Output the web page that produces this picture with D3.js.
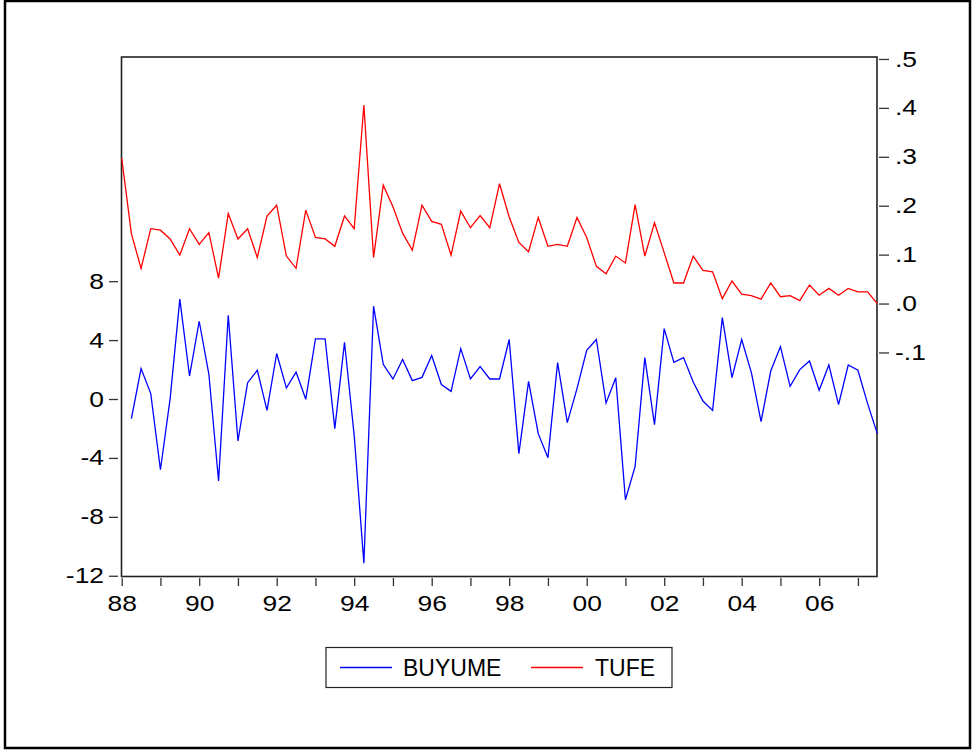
<!DOCTYPE html>
<html><head><meta charset="utf-8">
<script src="https://cdn.jsdelivr.net/npm/d3@7"></script>
<style>
body{margin:0;background:#fff}
text{font-family:"Liberation Sans",Arial,sans-serif;fill:#000}
</style>
</head><body>
<svg id="chart" width="972" height="751"></svg>
<script>
// Quarterly observations, 1988Q1 .. 2007Q3
const startYear = 1988;
const nObs = 79;
const buyume = [null,-1.33,2.07,0.37,-4.80,0.03,6.78,1.56,5.28,1.68,
 -5.57,5.69,-2.85,1.11,1.95,-0.77,3.09,0.75,1.83,-0.02,
 4.08,4.08,-2.01,3.85,-2.47,-11.15,6.30,2.36,1.36,2.68,
 1.25,1.47,2.95,0.98,0.52,3.42,1.36,2.20,1.36,1.36,
 4.04,-3.71,1.20,-2.35,-3.98,2.47,-1.60,0.71,3.31,4.04,
 -0.27,1.45,-6.84,-4.57,2.81,-1.74,4.78,2.49,2.81,1.16,
 -0.14,-0.77,5.53,1.45,4.04,1.79,-1.54,1.90,3.56,0.86,
 2.00,2.58,0.59,2.31,-0.38,2.31,1.95,-0.31,-2.35];
const tufe = [0.297,0.143,0.072,0.153,0.150,0.132,0.099,0.153,0.121,0.145,
 0.052,0.184,0.132,0.153,0.094,0.179,0.201,0.097,0.072,0.191,
 0.135,0.132,0.117,0.179,0.153,0.406,0.094,0.242,0.198,0.144,
 0.109,0.201,0.168,0.162,0.099,0.189,0.155,0.180,0.155,0.245,
 0.177,0.125,0.106,0.176,0.117,0.121,0.117,0.176,0.135,0.076,
 0.061,0.097,0.083,0.202,0.097,0.165,0.104,0.042,0.042,0.097,
 0.068,0.065,0.010,0.046,0.019,0.016,0.009,0.042,0.014,0.016,
 0.006,0.038,0.017,0.031,0.017,0.031,0.024,0.024,0.000];
const leftTicks = [-12,-8,-4,0,4,8];
const leftTickLabels = ["-12","-8","-4","0","4","8"];
const rightTicks = [-0.1,0,0.1,0.2,0.3,0.4,0.5];
const rightTickLabels = ["-.1",".0",".1",".2",".3",".4",".5"];
const xTickLabels = ["88","90","92","94","96","98","00","02","04","06"];
const seriesNames = ["BUYUME","TUFE"];
const seriesColors = ["#0000ff","#ff0000"];

const svg = d3.select("#chart");
const P = {l:121.5, r:877, t:57, b:576.5};

// outer frame
svg.append("rect").attr("x",5).attr("y",1).attr("width",965).attr("height",747)
  .attr("fill","none").attr("stroke","#000").attr("stroke-width",2.5);

const x = d3.scaleLinear().domain([0,nObs-1]).range([121.7,877.3]);
const yL = d3.scaleLinear().domain([-12.05,23.22]).range([P.b,P.t]);
const yR = d3.scaleLinear().domain([-0.558,0.504]).range([P.b,P.t]);

// plot frame
svg.append("rect").attr("x",P.l).attr("y",P.t).attr("width",P.r-P.l).attr("height",P.b-P.t)
  .attr("fill","none").attr("stroke","#222").attr("stroke-width",1.6);

const fs = 22;
// left axis
const gL = svg.append("g").attr("transform",`translate(118,0)`)
  .call(d3.axisLeft(yL).tickValues(leftTicks).tickSize(9).tickPadding(5)
    .tickFormat((d,i)=>leftTickLabels[i]));
// right axis
const gR = svg.append("g").attr("transform",`translate(879,0)`)
  .call(d3.axisRight(yR).tickValues(rightTicks).tickSize(10).tickPadding(6)
    .tickFormat((d,i)=>rightTickLabels[i]));
// bottom axis
const gB = svg.append("g").attr("transform",`translate(0,578)`)
  .call(d3.axisBottom(x).tickValues(d3.range(0,nObs,4)).tickSize(8).tickPadding(9)
    .tickFormat((d,i)=> i%2===0 ? (xTickLabels[i/2]||"") : ""));
[gL,gR,gB].forEach(g=>{
  g.select(".domain").remove();
  g.selectAll(".tick line").attr("stroke","#333").attr("stroke-width",1.3);
  g.selectAll("text").attr("font-size",fs).attr("font-family","Liberation Sans, Arial, sans-serif").attr("fill","#000").attr("class","wide");
});

// series
const lineL = d3.line().defined(d=>d!=null).x((d,i)=>x(i)).y(d=>yL(d));
const lineR = d3.line().x((d,i)=>x(i)).y(d=>yR(d));
svg.append("path").datum(tufe).attr("d",lineR).attr("fill","none")
  .attr("stroke",seriesColors[1]).attr("stroke-width",1.3);
svg.append("path").datum(buyume).attr("d",lineL).attr("fill","none")
  .attr("stroke",seriesColors[0]).attr("stroke-width",1.3);

// legend
const lg = svg.append("g");
lg.append("rect").attr("x",326).attr("y",647.5).attr("width",346).attr("height",40)
  .attr("fill","#fff").attr("stroke","#222").attr("stroke-width",1.2);
const legItems = [{lx:340,tx:403},{lx:531,tx:595}];
legItems.forEach((it,i)=>{
  lg.append("line").attr("x1",it.lx).attr("x2",it.lx+52).attr("y1",667.5).attr("y2",667.5)
    .attr("stroke",seriesColors[i]).attr("stroke-width",1.3);
  lg.append("text").attr("x",it.tx).attr("y",676).attr("font-size",23).text(seriesNames[i]);
});

// widen tick labels slightly to match the stretched original rendering
svg.selectAll("text.wide").each(function(){
  const w = this.getComputedTextLength();
  if (w>0) d3.select(this).attr("textLength",w*1.2).attr("lengthAdjust","spacingAndGlyphs");
});
</script>
</body></html>
